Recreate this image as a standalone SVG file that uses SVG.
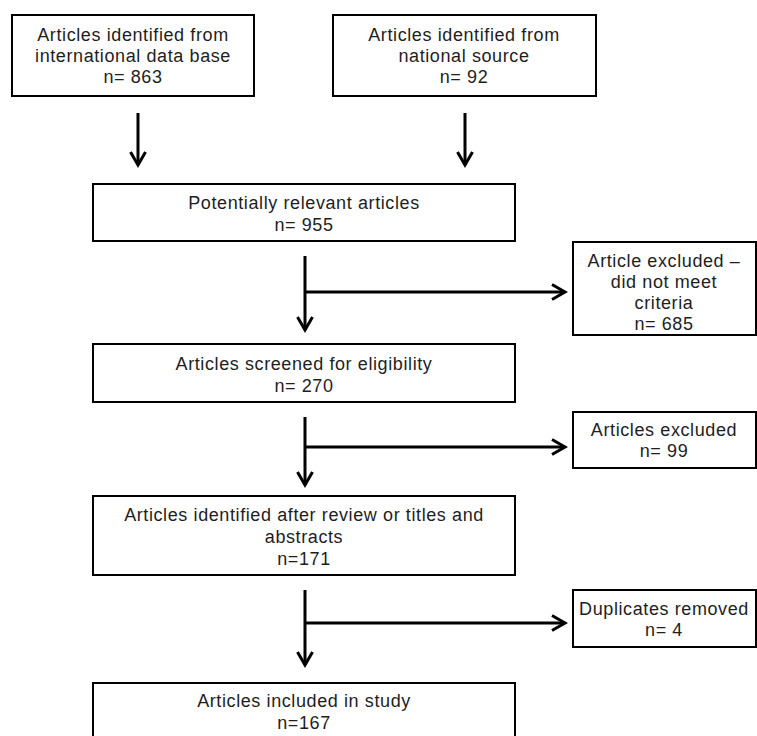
<svg xmlns="http://www.w3.org/2000/svg" width="757" height="736" viewBox="0 0 757 736">
<defs>
<marker id="ah" viewBox="0 0 18 18" refX="15" refY="9" markerWidth="18" markerHeight="18" markerUnits="userSpaceOnUse" orient="auto">
<path d="M2,1.5 L15,9 L2,16.5" fill="none" stroke="#000" stroke-width="3"/>
</marker>
<style>
rect{fill:#fff;stroke:#000;stroke-width:2}
text{font-family:"Liberation Sans",Arial,sans-serif;font-size:18px;letter-spacing:0.6px;fill:#1e1e1e;text-anchor:middle}
.c line{stroke:#000;stroke-width:3}
</style>
</defs>
<rect x="0" y="0" width="757" height="736" style="stroke:none"/>
<g id="n1"><rect x="12" y="15" width="242" height="81"/>
<text x="133" y="41">Articles identified from</text><text x="133" y="62">international data base</text><text x="133" y="83">n= 863</text></g>
<g id="n2"><rect x="333" y="15" width="263" height="81"/>
<text x="464" y="41">Articles identified from</text><text x="464" y="62">national source</text><text x="464" y="83">n= 92</text></g>
<g id="n3"><rect x="93" y="184" width="422" height="57"/>
<text x="304" y="209">Potentially relevant articles</text><text x="304" y="231">n= 955</text></g>
<g id="n4"><rect x="573" y="242" width="183" height="93"/>
<text x="664" y="267">Article excluded –</text><text x="664" y="288">did not meet</text><text x="664" y="309">criteria</text><text x="664" y="330">n= 685</text></g>
<g id="n5"><rect x="93" y="344" width="422" height="58"/>
<text x="304" y="370">Articles screened for eligibility</text><text x="304" y="392">n= 270</text></g>
<g id="n6"><rect x="573" y="412" width="183" height="56"/>
<text x="664" y="436">Articles excluded</text><text x="664" y="457">n= 99</text></g>
<g id="n7"><rect x="93" y="496" width="422" height="79"/>
<text x="304" y="521">Articles identified after review or titles and</text><text x="304" y="543">abstracts</text><text x="304" y="565">n=171</text></g>
<g id="n8"><rect x="573" y="590" width="183" height="57"/>
<text x="664" y="615">Duplicates removed</text><text x="664" y="636">n= 4</text></g>
<g id="n9"><rect x="93" y="683" width="422" height="60"/>
<text x="304" y="707">Articles included in study</text><text x="304" y="729">n=167</text></g>
<g class="c" id="connectors">
<line x1="138" y1="113" x2="138" y2="165" marker-end="url(#ah)"/>
<line x1="465" y1="113" x2="465" y2="165" marker-end="url(#ah)"/>
<line x1="305" y1="256" x2="305" y2="330" marker-end="url(#ah)"/>
<line x1="305" y1="292" x2="565" y2="292" marker-end="url(#ah)"/>
<line x1="305" y1="417" x2="305" y2="485" marker-end="url(#ah)"/>
<line x1="305" y1="447" x2="565" y2="447" marker-end="url(#ah)"/>
<line x1="305" y1="590" x2="305" y2="665" marker-end="url(#ah)"/>
<line x1="305" y1="623" x2="565" y2="623" marker-end="url(#ah)"/>
</g>
</svg>
